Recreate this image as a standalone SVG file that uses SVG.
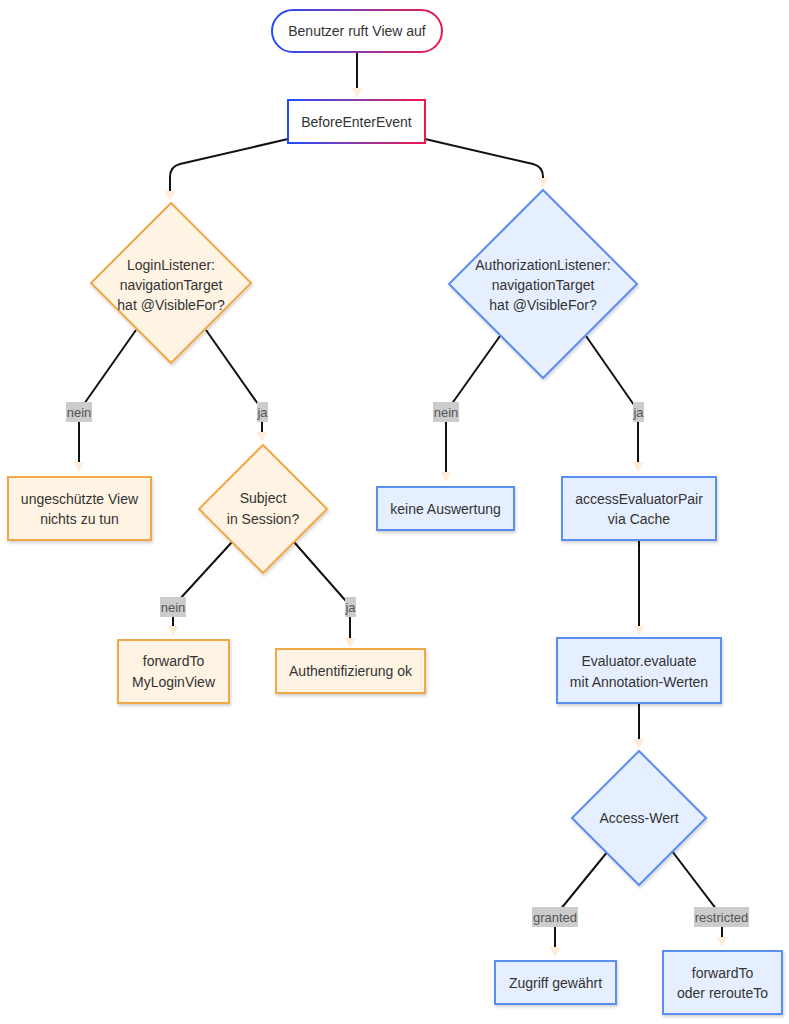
<svg xmlns="http://www.w3.org/2000/svg" width="789" height="1024" viewBox="0 0 789 1024">
<defs>
<linearGradient id="grad" x1="0" y1="0" x2="1" y2="0">
<stop offset="0" stop-color="#1f4bff"/>
<stop offset="0.5" stop-color="#8a3aa8"/>
<stop offset="1" stop-color="#f0164a"/>
</linearGradient>
<marker id="arr" markerUnits="userSpaceOnUse" markerWidth="11" markerHeight="11" refX="0" refY="5.5" orient="auto">
<path d="M0,0 L10,5.5 L0,11 z" fill="#ffedd9"/>
</marker>
<filter id="sh" x="-10%" y="-10%" width="130%" height="140%">
<feDropShadow dx="1" dy="2" stdDeviation="1.5" flood-color="#000" flood-opacity="0.18"/>
</filter>
</defs>
<style>
text{font-family:"Liberation Sans",Arial,sans-serif;font-size:14px;fill:#333;text-anchor:middle;dominant-baseline:central}
.org{fill:#fff3e3;stroke:#f0a94a;stroke-width:2;filter:url(#sh)}
.blu{fill:#e6efff;stroke:#5a8ef0;stroke-width:2;filter:url(#sh)}
.grd{fill:#fff;stroke:url(#grad);stroke-width:2}
.e{fill:none;stroke:#111;stroke-width:2;marker-end:url(#arr)}
.lb rect{fill:#cccccc}
.lb text{font-size:13px;fill:#555}
</style>
<rect width="789" height="1024" fill="#fff"/>
<g id="connectors">
<path class="e" d="M357,52 L357,88"/>
<path class="e" d="M288,139 L180,164 Q170,166.5 170,177 L170,191"/>
<path class="e" d="M425,139 L533,164 Q543,166.5 543,177 L543,178"/>
<path class="e" d="M136,330 L84,404 Q79,411 79,418 L79,462"/>
<path class="e" d="M206,330 L258,404 Q262,410 262,416 L262,432"/>
<path class="e" d="M232,542 L178,601 Q173,606 173,612 L173,626"/>
<path class="e" d="M294,542 L345,600 Q350,605 350,611 L350,638"/>
<path class="e" d="M500,336 L451,405 Q446,411 446,418 L446,472"/>
<path class="e" d="M586,336 L634,405 Q638,410 638,416 L638,462"/>
<path class="e" d="M639,541 L639,626"/>
<path class="e" d="M639,704 L639,739"/>
<path class="e" d="M608,851 L560,910 Q555,915 555,920 L555,947"/>
<path class="e" d="M672,851 L717,910 Q722,915 722,920 L722,937"/>
<g class="lb">
<rect x="66" y="402" width="26" height="20"/><text x="79" y="412">nein</text>
<rect x="257" y="402" width="11" height="20"/><text x="262.5" y="412">ja</text>
<rect x="160" y="597" width="26" height="20"/><text x="173" y="607">nein</text>
<rect x="345" y="597" width="11" height="20"/><text x="350.5" y="607">ja</text>
<rect x="433" y="402" width="26" height="20"/><text x="446" y="412">nein</text>
<rect x="633" y="402" width="11" height="20"/><text x="638.5" y="412">ja</text>
<rect x="532" y="907" width="46" height="20"/><text x="555" y="917">granted</text>
<rect x="694" y="907" width="55" height="20"/><text x="721.5" y="917">restricted</text>
</g>
</g>
<g id="start">
<rect class="grd" x="272" y="10" width="170" height="42" rx="21"/>
<text x="357" y="31">Benutzer ruft View auf</text>
</g>
<g id="beforeEnter">
<rect class="grd" x="288" y="100" width="137" height="43"/>
<text x="356.5" y="121.5">BeforeEnterEvent</text>
</g>
<g id="loginListener">
<polygon class="org" points="171,203 251,283 171,363 91,283"/>
<text x="171" y="265">LoginListener:</text>
<text x="171" y="285">navigationTarget</text>
<text x="171" y="305">hat @VisibleFor?</text>
</g>
<g id="authListener">
<polygon class="blu" points="543,190 637,284 543,378 449,284"/>
<text x="543" y="265">AuthorizationListener:</text>
<text x="543" y="285">navigationTarget</text>
<text x="543" y="305">hat @VisibleFor?</text>
</g>
<g id="unprotected">
<rect class="org" x="8" y="477" width="143" height="63"/>
<text x="79.5" y="499">ungeschützte View</text>
<text x="79.5" y="519">nichts zu tun</text>
</g>
<g id="subject">
<polygon class="org" points="263,445 327,509 263,573 199,509"/>
<text x="263" y="498">Subject</text>
<text x="263" y="519">in Session?</text>
</g>
<g id="forwardLogin">
<rect class="org" x="118" y="640" width="111" height="63"/>
<text x="173.5" y="661">forwardTo</text>
<text x="173.5" y="682">MyLoginView</text>
</g>
<g id="authOk">
<rect class="org" x="276" y="649" width="149" height="44"/>
<text x="350.5" y="671">Authentifizierung ok</text>
</g>
<g id="noEval">
<rect class="blu" x="377" y="487" width="137" height="43"/>
<text x="445.5" y="508.5">keine Auswertung</text>
</g>
<g id="cache">
<rect class="blu" x="562" y="477" width="154" height="63"/>
<text x="639" y="499">accessEvaluatorPair</text>
<text x="639" y="519">via Cache</text>
</g>
<g id="evaluate">
<rect class="blu" x="557" y="638" width="164" height="65"/>
<text x="639" y="661">Evaluator.evaluate</text>
<text x="639" y="682">mit Annotation-Werten</text>
</g>
<g id="access">
<polygon class="blu" points="639,751 706,818 639,885 572,818"/>
<text x="639" y="818">Access-Wert</text>
</g>
<g id="granted">
<rect class="blu" x="495" y="961" width="121" height="43"/>
<text x="555.5" y="982.5">Zugriff gewährt</text>
</g>
<g id="restricted">
<rect class="blu" x="663" y="951" width="119" height="63"/>
<text x="722.5" y="973">forwardTo</text>
<text x="722.5" y="993">oder rerouteTo</text>
</g>
</svg>
